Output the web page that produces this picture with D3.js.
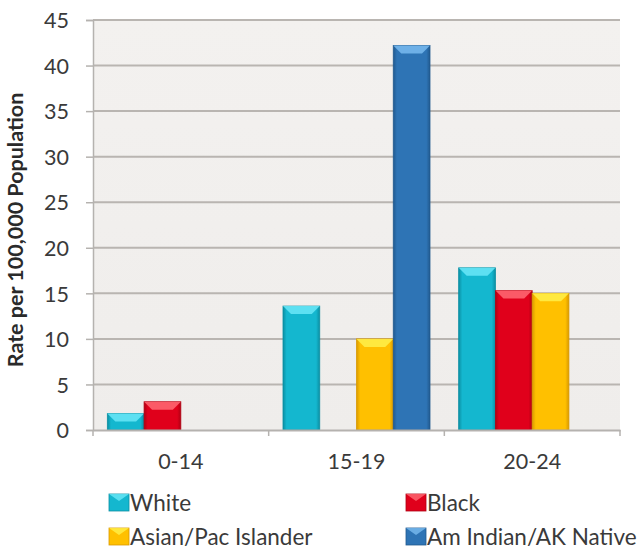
<!DOCTYPE html>
<html><head><meta charset="utf-8">
<script src="https://cdn.jsdelivr.net/npm/d3@7"></script>
<style>body{margin:0;background:#fff;}svg{display:block;}</style>
</head><body>
<script>
const categories = ["0-14", "15-19", "20-24"];
const seriesNames = ["White", "Black", "Asian/Pac Islander", "Am Indian/AK Native"];
const white = [1.8, 13.6, 17.8];
const black = [3.1, null, 15.3];
const asian = [null, 10.0, 15.0];
const amIndian = [null, 42.2, null];
const yTicks = [0, 5, 10, 15, 20, 25, 30, 35, 40, 45];
const colors = ["#14b7cf", "#e0001b", "#ffc000", "#2e74b5"];
const lightColors = ["#6ae8f8", "#ff6a74", "#fff04a", "#79bbf0"];
const darkColors = ["#0b8fa3", "#b00012", "#d99a00", "#215a8f"];

(function () {
const series = [white, black, asian, amIndian];
const W = 641, H = 550;
const svg = d3.select("body").append("svg").attr("width", W).attr("height", H);
const font = "Lato, 'Open Sans', sans-serif";

const mLeft = 93, mRight = 620, mTop = 20, mBottom = 430;
const x = d3.scaleBand().domain(categories).range([mLeft, mRight]).paddingInner(0).paddingOuter(0);
const xs = d3.scaleBand().domain(d3.range(4)).range([0, x.bandwidth()]).paddingInner(0).paddingOuter(0.39);
const y = d3.scaleLinear().domain([0, 45]).range([mBottom, mTop]);

const defs = svg.append("defs");
const bg = defs.append("linearGradient").attr("id", "bg").attr("x1", 0).attr("y1", 0).attr("x2", 0).attr("y2", 1);
bg.append("stop").attr("offset", 0).attr("stop-color", "#f3f1ef");
bg.append("stop").attr("offset", 1).attr("stop-color", "#efedeb");
svg.append("rect").attr("x", mLeft).attr("y", mTop).attr("width", mRight - mLeft).attr("height", mBottom - mTop).attr("fill", "url(#bg)");

colors.forEach((c, i) => {
  const g = defs.append("linearGradient").attr("id", "bar" + i).attr("x1", 0).attr("y1", 0).attr("x2", 1).attr("y2", 0);
  g.append("stop").attr("offset", 0).attr("stop-color", darkColors[i]);
  g.append("stop").attr("offset", 0.1).attr("stop-color", c);
  g.append("stop").attr("offset", 0.9).attr("stop-color", c);
  g.append("stop").attr("offset", 1).attr("stop-color", darkColors[i]);
});

// gridlines
svg.append("g").selectAll("line").data(yTicks.filter(d => d > 0)).join("line")
  .attr("x1", mLeft).attr("x2", mRight).attr("y1", d => y(d)).attr("y2", d => y(d))
  .attr("stroke", "#b9b5b1").attr("stroke-width", 2);

// y axis
const yAxis = d3.axisLeft(y).tickValues(yTicks).tickSize(7).tickPadding(17);
const yg = svg.append("g").attr("transform", `translate(${mLeft},0)`).call(yAxis);
yg.select(".domain").attr("stroke", "#b5b2af").attr("stroke-width", 1.5);
yg.selectAll(".tick line").attr("stroke", "#b5b2af").attr("stroke-width", 1.5);
yg.selectAll(".tick text").attr("font-family", font).attr("font-size", 21.5).attr("fill", "#3a3a3a").attr("dy", "0.36em");

// bars
const groups = svg.append("g").selectAll("g").data(categories).join("g")
  .attr("transform", d => `translate(${x(d)},0)`);
series.forEach((s, si) => {
  groups.each(function (cat, ci) {
    const v = s[ci];
    if (v == null) return;
    const g = d3.select(this);
    const x0 = xs(si), bw = xs.bandwidth(), yt = y(v);
    g.append("rect").attr("x", x0).attr("y", yt).attr("width", bw).attr("height", y(0) - yt)
      .attr("fill", `url(#bar${si})`).attr("stroke", darkColors[si]).attr("stroke-width", 0.8);
    const bev = Math.min(8, (y(0) - yt) / 2);
    g.append("polygon")
      .attr("points", [[x0, yt], [x0 + bw, yt], [x0 + bw - 8, yt + bev], [x0 + 8, yt + bev]].map(p => p.join(",")).join(" "))
      .attr("fill", lightColors[si]).attr("opacity", 0.85);
  });
});

// x axis
const xAxis = d3.axisBottom(x).tickSize(0);
const xg = svg.append("g").attr("transform", `translate(0,${mBottom})`).call(xAxis);
xg.select(".domain").attr("stroke", "#b5b2af").attr("stroke-width", 2);
xg.selectAll(".tick text").attr("font-family", font).attr("font-size", 21.5).attr("fill", "#3a3a3a")
  .attr("y", 39).attr("dy", 0);
svg.append("g").selectAll("line").data(categories.map(c => x(c)).concat([mRight]))
  .join("line").attr("x1", d => d).attr("x2", d => d).attr("y1", mBottom).attr("y2", mBottom + 6)
  .attr("stroke", "#b5b2af").attr("stroke-width", 1.5);

// y title
svg.append("text").attr("transform", `translate(23,${(mTop + mBottom) / 2 + 5}) rotate(-90)`)
  .attr("text-anchor", "middle").attr("font-family", font).attr("font-weight", "bold")
  .attr("font-size", 21.5).attr("fill", "#2a2a2a").text("Rate per 100,000 Population");

// legend
const legendPos = [[109, 494], [406, 494], [109, 528], [406, 528]];
const lg = svg.append("g").selectAll("g").data(seriesNames).join("g")
  .attr("transform", (d, i) => `translate(${legendPos[i][0]},${legendPos[i][1]})`);
lg.append("rect").attr("width", 20).attr("height", 17).attr("fill", (d, i) => colors[i])
  .attr("stroke", (d, i) => darkColors[i]).attr("stroke-width", 0.8);
lg.append("polygon").attr("points", "0,0 20,0 10,7").attr("fill", (d, i) => lightColors[i]).attr("opacity", 0.8);
lg.append("text").attr("x", 21).attr("y", 17).attr("font-family", font).attr("font-size", 22.5)
  .attr("fill", "#3a3a3a").text(d => d);
})();
</script>
</body></html>
